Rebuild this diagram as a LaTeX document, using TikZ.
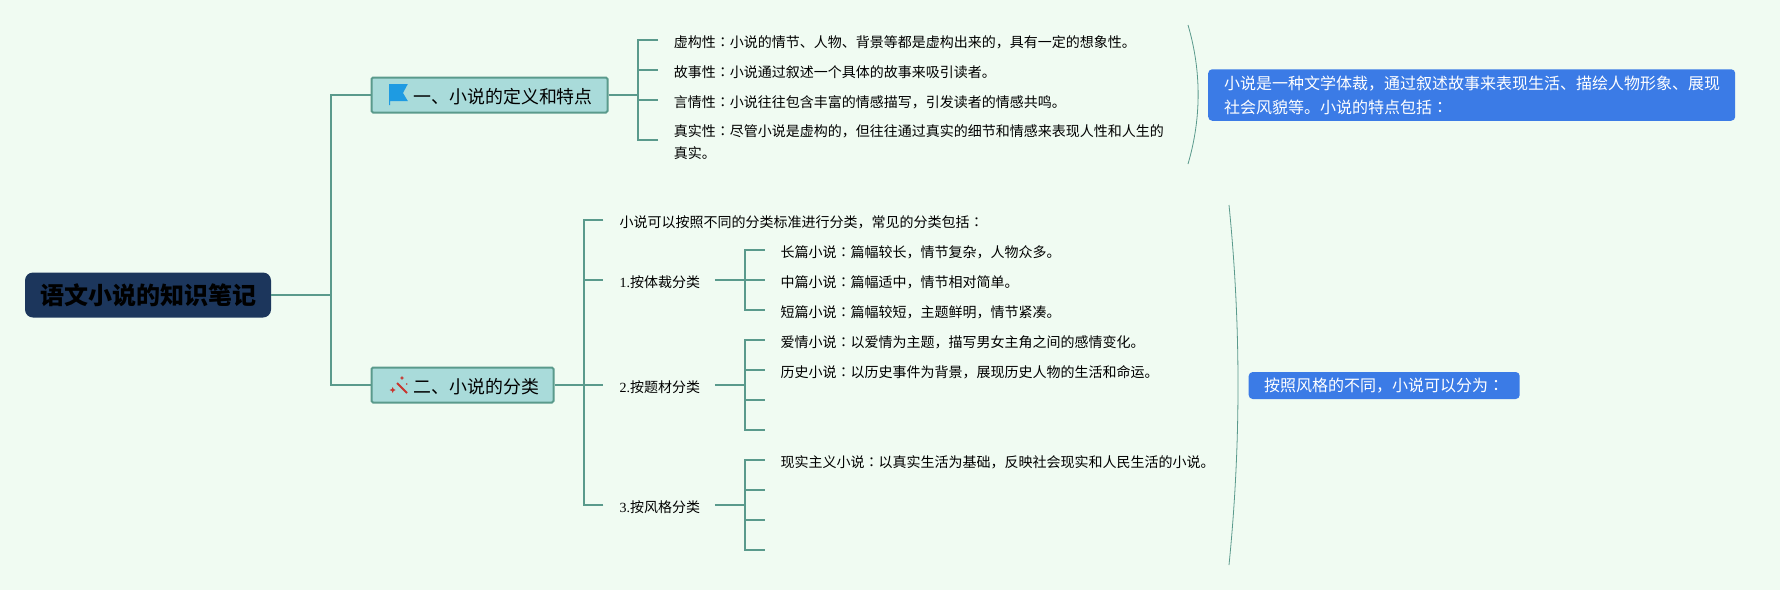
\documentclass[tikz,border=0pt]{standalone}
\usepackage{fontspec}
\setmainfont{Noto Sans CJK SC}
\newfontfamily\serifdigit{Liberation Serif}
\newfontfamily\jpf{Noto Sans CJK JP}
\definecolor{bgc}{HTML}{F0FBF2}
\definecolor{linec}{HTML}{5A9A8C}
\definecolor{rootc}{HTML}{1C365C}
\definecolor{topicc}{HTML}{A9DBDA}
\definecolor{bluec}{HTML}{3B7BE6}
\definecolor{flagc}{HTML}{1E9BE2}
\definecolor{wandc}{HTML}{C8352E}
\newcommand{\cn}{{\jpf ：}}
\tikzset{
  x=1pt,y=-1pt,
  conn/.style={draw=linec,line width=2pt},
  arcline/.style={draw=linec,line width=0.8pt},
  rootbox/.style={fill=rootc,rounded corners=8pt,minimum width=246pt,minimum height=45pt,inner sep=0pt,font=\fontsize{24}{27}\selectfont\bfseries,text=black},
  topic/.style={fill=topicc,draw=linec,line width=2pt,rounded corners=1.5pt,minimum height=35pt,inner sep=0pt},
  ttext/.style={font=\fontsize{17.9}{20}\selectfont,text=black,anchor=west,inner sep=0pt},
  leaf/.style={font=\fontsize{14}{21.7}\selectfont,text=black,anchor=west,inner sep=0pt,align=left},
  note/.style={fill=bluec,rounded corners=4pt,anchor=west,inner sep=0pt,text=white,font=\fontsize{16}{24.7}\selectfont,align=left}
}
\begin{document}
\begin{tikzpicture}
\useasboundingbox[fill=bgc] (0,0) rectangle (1780,590);
% root and topics
\node[rootbox] (root) at (148,295) {语文小说的知识笔记};
\node[topic,minimum width=236pt] (t1) at (489.5,95) {};
\node[topic,minimum width=182pt] (t2) at (462.5,385) {};
\node[ttext] (t1l) at (413.5,96.5) {一、小说的定义和特点};
\node[ttext] (t2l) at (413.5,386.5) {二、小说的分类};
% icons
\fill[flagc] (389,84) -- (407.8,84) -- (403,93) -- (407.8,101) -- (390,101) -- (390,105) -- (389,105) -- cycle;
\draw[wandc,line width=1.8pt] (397,383) -- (407,393);
\fill[wandc] (392.7,387) -- (393.6,389) -- (395.7,390) -- (393.6,391) -- (392.7,393) -- (391.8,391) -- (389.7,390) -- (391.8,389) -- cycle;
\fill[wandc] (402,376) -- (402.7,377.3) -- (404,378) -- (402.7,378.7) -- (402,380) -- (401.3,378.7) -- (400,378) -- (401.3,377.3) -- cycle;
\fill[wandc] (406.7,384) circle (0.9pt);
% trunk
\coordinate (j0) at (330.5,295);
\draw[conn] (root.east) -- (j0);
\draw[conn] (t1.west) -| (j0);
\draw[conn] (t2.west) -| (j0);
% section 1 leaves
\node[leaf] (a1) at (673.6,42.5) {虚构性\cn 小说的情节、人物、背景等都是虚构出来的，具有一定的想象性。};
\node[leaf] (a2) at (673.6,72.5) {故事性\cn 小说通过叙述一个具体的故事来吸引读者。};
\node[leaf] (a3) at (673.6,102.5) {言情性\cn 小说往往包含丰富的情感描写，引发读者的情感共鸣。};
\node[leaf] (a4) at (673.6,142.3) {真实性\cn 尽管小说是虚构的，但往往通过真实的细节和情感来表现人性和人生的\\真实。};
\coordinate (ja) at (637.6,95);
\coordinate (ea1) at (658,40);
\coordinate (ea2) at (658,70);
\coordinate (ea3) at (658,100);
\coordinate (ea4) at (658,140);
\draw[conn] (t1.east) -- (ja);
\draw[conn] (ea1) -| (ja);
\draw[conn] (ea4) -| (ja);
\draw[conn] (ja |- ea2) -- (ea2);
\draw[conn] (ja |- ea3) -- (ea3);
% section 1 brace arc and note
\coordinate (ca1) at (1188,25);
\coordinate (ca2) at (1188,164);
\draw[arcline] (ca1) .. controls (1201.5,71) and (1201.5,118) .. (ca2);
\node[note,minimum width=527pt,minimum height=51.5pt] (n1) at (1208,95) {};
\node[note,fill=none] (n1l) at (1224,95.5) {小说是一种文学体裁，通过叙述故事来表现生活、描绘人物形象、展现\\社会风貌等。小说的特点包括\cn};
% section 2 leaves
\node[leaf] (b0) at (619.4,222.5) {小说可以按照不同的分类标准进行分类，常见的分类包括\cn};
\node[leaf] (b1) at (619.4,282.3) {{\serifdigit 1.}按体裁分类};
\node[leaf] (b2) at (619.4,387.3) {{\serifdigit 2.}按题材分类};
\node[leaf] (b3) at (619.4,507.3) {{\serifdigit 3.}按风格分类};
\coordinate (jb) at (584,385);
\coordinate (eb0) at (603.4,220);
\coordinate (eb1) at (603.4,280);
\coordinate (eb2) at (603.4,385);
\coordinate (eb3) at (603.4,505);
\draw[conn] (t2.east) -- (eb2);
\draw[conn] (eb0) -| (jb);
\draw[conn] (eb3) -| (jb);
\draw[conn] (jb |- eb1) -- (eb1);
% sub 1
\node[leaf] (c1) at (780.3,252.5) {长篇小说\cn 篇幅较长，情节复杂，人物众多。};
\node[leaf] (c2) at (780.3,282.5) {中篇小说\cn 篇幅适中，情节相对简单。};
\node[leaf] (c3) at (780.3,312.5) {短篇小说\cn 篇幅较短，主题鲜明，情节紧凑。};
\coordinate (s1i) at (714.8,280);
\coordinate (s1) at (745,280);
\coordinate (s1a) at (764.7,250);
\coordinate (s1b) at (764.7,280);
\coordinate (s1c) at (764.7,310);
\draw[conn] (s1i) -- (s1b);
\draw[conn] (s1a) -| (s1);
\draw[conn] (s1c) -| (s1);
% sub 2
\node[leaf] (d1) at (780.3,342.5) {爱情小说\cn 以爱情为主题，描写男女主角之间的感情变化。};
\node[leaf] (d2) at (780.3,372.5) {历史小说\cn 以历史事件为背景，展现历史人物的生活和命运。};
\coordinate (s2i) at (714.8,385);
\coordinate (s2) at (745,385);
\coordinate (s2a) at (764.7,340);
\coordinate (s2b) at (764.7,370);
\coordinate (s2c) at (764.7,400);
\coordinate (s2d) at (764.7,430);
\draw[conn] (s2i) -- (s2);
\draw[conn] (s2a) -| (s2);
\draw[conn] (s2d) -| (s2);
\draw[conn] (s2 |- s2b) -- (s2b);
\draw[conn] (s2 |- s2c) -- (s2c);
% sub 3
\node[leaf] (f1) at (780.3,462.5) {现实主义小说\cn 以真实生活为基础，反映社会现实和人民生活的小说。};
\coordinate (s3i) at (714.8,505);
\coordinate (s3) at (745,505);
\coordinate (s3a) at (764.7,460);
\coordinate (s3b) at (764.7,490);
\coordinate (s3c) at (764.7,520);
\coordinate (s3d) at (764.7,550);
\draw[conn] (s3i) -- (s3);
\draw[conn] (s3a) -| (s3);
\draw[conn] (s3d) -| (s3);
\draw[conn] (s3 |- s3b) -- (s3b);
\draw[conn] (s3 |- s3c) -- (s3c);
% section 2 arc and note
\coordinate (cb1) at (1229,205);
\coordinate (cb2) at (1229,565);
\draw[arcline] (cb1) .. controls (1241,325) and (1241,445) .. (cb2);
\node[note,minimum width=271pt,minimum height=27pt] (n2) at (1248.5,385.5) {};
\node[note,fill=none] (n2l) at (1264,385.5) {按照风格的不同，小说可以分为\cn};
\end{tikzpicture}
\end{document}
